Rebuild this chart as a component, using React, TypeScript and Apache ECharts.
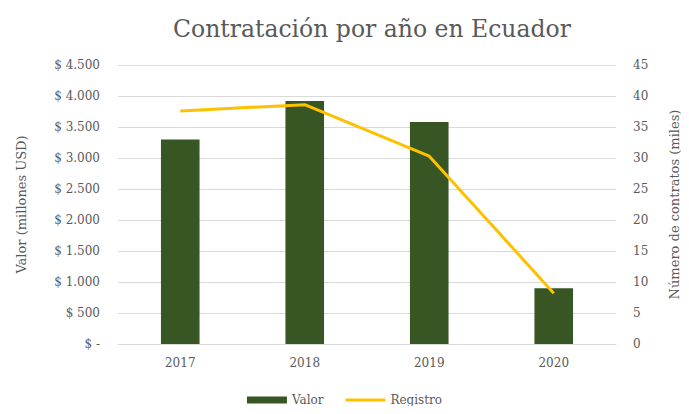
import React, { useEffect, useRef } from "react";
import * as echarts from "echarts";

const years = ["2017", "2018", "2019", "2020"];
const valor = [3300, 3920, 3580, 900];
const registro = [37.6, 38.6, 30.3, 8.2];
const leftTicks = { min: 0, max: 4500, interval: 500 };
const rightTicks = { min: 0, max: 45, interval: 5 };

const FONT = "'DejaVu Serif', 'Liberation Serif', serif";
const GREY = "#595959";

function fmtMoney(v: number): string {
  if (v === 0) return "$ -";
  const s = String(v);
  const withDots = s.replace(/\B(?=(\d{3})+(?!\d))/g, ".");
  return "$ " + withDots;
}

export default function App() {
  const ref = useRef<HTMLDivElement>(null);
  useEffect(() => {
    if (!ref.current) return;
    const chart = echarts.init(ref.current, undefined, { renderer: "svg" });
    chart.setOption({
      animation: false,
      backgroundColor: "#ffffff",
      title: {
        text: "Contratación por año en Ecuador",
        left: 168,
        top: 12,
        textStyle: { fontFamily: FONT, fontSize: 23.5, fontWeight: "normal", color: GREY },
      },
      legend: {
        bottom: 3,
        left: "center",
        itemWidth: 40,
        itemHeight: 7,
        itemGap: 22,
        textStyle: { fontFamily: FONT, fontSize: 12, color: GREY },
        data: [
          { name: "Valor", icon: "rect" },
          { name: "Registro", icon: "path://M0,0 H40 V3 H0 Z" },
        ],
      },
      grid: { left: 118, right: 64, top: 65, bottom: 70, containLabel: false },
      xAxis: {
        type: "category",
        data: years,
        axisTick: { show: false },
        axisLine: { show: true, lineStyle: { color: "#d9d9d9" } },
        axisLabel: { fontFamily: FONT, fontSize: 12, color: GREY, margin: 13 },
      },
      yAxis: [
        {
          type: "value",
          ...leftTicks,
          name: "Valor (millones USD)",
          nameLocation: "middle",
          nameGap: 90,
          nameTextStyle: { fontFamily: FONT, fontSize: 13, color: GREY },
          axisLine: { show: false },
          axisTick: { show: false },
          axisLabel: { fontFamily: FONT, fontSize: 12, color: GREY, margin: 18, formatter: fmtMoney },
          splitLine: { lineStyle: { color: "#d9d9d9" } },
        },
        {
          type: "value",
          ...rightTicks,
          position: "right",
          name: "Número de contratos (miles)",
          nameLocation: "middle",
          nameGap: 52,
          nameRotate: 90,
          nameTextStyle: { fontFamily: FONT, fontSize: 13, color: GREY },
          axisLine: { show: false },
          axisTick: { show: false },
          axisLabel: { fontFamily: FONT, fontSize: 12, color: GREY, margin: 17 },
          splitLine: { show: false },
        },
      ],
      series: [
        {
          name: "Valor",
          type: "bar",
          data: valor,
          barWidth: "31%",
          itemStyle: { color: "#375623" },
          yAxisIndex: 0,
        },
        {
          name: "Registro",
          type: "line",
          data: registro,
          yAxisIndex: 1,
          showSymbol: false,
          symbol: "none",
          lineStyle: { color: "#FFC000", width: 3 },
          itemStyle: { color: "#FFC000" },
        },
      ],
    });
    return () => chart.dispose();
  }, []);
  return <div ref={ref} style={{ width: 689, height: 414, margin: -8 }} />;
}
